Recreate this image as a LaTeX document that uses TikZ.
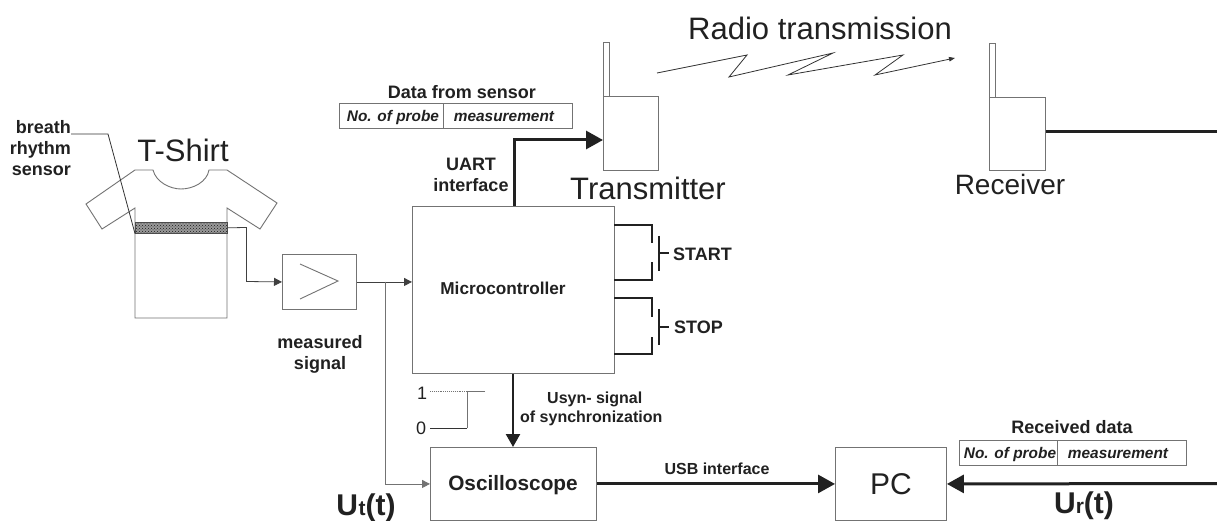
\documentclass[tikz,border=0pt]{standalone}
\usepackage{fontspec}
\setmainfont{Liberation Sans}
\usetikzlibrary{arrows.meta,patterns}
\definecolor{ln}{gray}{0.45}
\definecolor{tx}{gray}{0.13}
\tikzset{
  box/.style={draw=ln,line width=0.9pt,fill=white,inner sep=0pt,anchor=north west},
  thin line/.style={draw=ln,line width=0.9pt},
  dark line/.style={draw=black!80,line width=0.8pt},
  thick arrow/.style={draw=tx,line width=3pt,-{Triangle[length=17pt,width=18pt]}},
  mid arrow/.style={draw=tx,line width=2.4pt,-{Triangle[length=13pt,width=14pt]}},
  thick line/.style={draw=tx,line width=3pt},
  small arrow/.style={draw=black!75,line width=0.8pt,-{Triangle[length=8pt,width=8pt]}},
  sw/.style={draw=tx,line width=1.5pt},
  big/.style={font=\fontsize{31}{34}\selectfont,text=tx,inner sep=0pt},
  lab/.style={font=\fontsize{18}{21}\selectfont\bfseries,text=tx,inner sep=0pt,align=center},
  cell/.style={font=\fontsize{15.4}{18}\selectfont\bfseries\itshape,text=tx,inner sep=0pt},
  ulab/.style={font=\fontsize{30}{32}\selectfont\bfseries,text=tx,inner sep=0pt}
}
\newcommand{\rectnode}[5]{\node[box,minimum width=#4pt-#2pt,minimum height=#5pt-#3pt] (#1) at (#2,#3) {};}
\begin{document}
\begin{tikzpicture}[x=1pt,y=-1pt]
\useasboundingbox (0,0) rectangle (1217,521);
\fill[white] (0,0) rectangle (1217,521);
% T-shirt
\draw[thin line] (135,208) -- (102,229) -- (86,204) -- (135,170) -- (153,170)
  .. controls (156,182) and (170,189) .. (181,189) .. controls (193,189) and (207,182) .. (209,170)
  -- (227,170) -- (277,203) -- (260,229) -- (227,208) -- (227,318) -- (135,318) -- cycle;
\node[draw=black!70,line width=0.6pt,preaction={fill=black!40},pattern=crosshatch dots,pattern color=black!90,minimum width=92pt,minimum height=11pt,inner sep=0pt,anchor=north west] (band) at (135,222) {};
\node[big] (tshirt) at (183,150) {T-Shirt};
\node[lab,align=right,anchor=north east] (sensor) at (71,120) {breath\\rhythm\\sensor};
\coordinate (leadA) at (108,134);
\draw[dark line] (71,134) -- (leadA) -- (band.south west);
% amplifier
\rectnode{amp}{282}{254}{356}{309}
\coordinate (t1) at (300,264); \coordinate (t2) at (338,281); \coordinate (t3) at (300,299);
\draw[thin line] (t1) -- (t2) -- (t3);
\draw[small arrow] (band.east) -- (246.5,227.5) -- (246.5,281.5) -- (amp.west);
% microcontroller
\rectnode{mcu}{412}{206}{614}{373}
\node[font=\fontsize{17.2}{20}\selectfont\bfseries,text=tx,inner sep=0pt] (mcutxt) at (503,288) {Microcontroller};
\draw[small arrow] (amp.east) -- (mcu.west |- amp.east);
% oscilloscope
\rectnode{osc}{430}{447}{596}{520}
\node[font=\fontsize{20.8}{24}\selectfont\bfseries,text=tx,inner sep=0pt] (osctxt) at (513,485) {Oscilloscope};
\coordinate (br) at (385,281.5);
\draw[thin line,-{Triangle[length=8pt,width=8pt]}] (br) |- (osc.west);
\draw[mid arrow] (mcu.south -| 513,0) -- (osc.north -| 513,0);
% PC
\rectnode{pc}{835}{447}{946}{520}
\node[big,font=\fontsize{30}{33}\selectfont] (pctxt) at (891,484) {PC};
\draw[thick arrow] (osc.east) -- (pc.west);
\coordinate (rin) at (1217,483.5);
\draw[thick arrow] (rin) -- (pc.east);
\node[lab,font=\fontsize{16}{19}\selectfont\bfseries] (usb) at (717,469) {USB interface};
% transmitter
\rectnode{tx}{603}{96}{658}{170}
\rectnode{txant}{603}{42}{609}{96}
\node[big] (txlab) at (648,188) {Transmitter};
\coordinate (bend) at (514,140);
\draw[thick arrow] (mcu.north -| bend) -- (bend) -- (tx.west |- bend);
\node[lab,align=center] (uart) at (471,175) {UART\\interface};
% receiver
\rectnode{rx}{989}{97}{1045}{170}
\rectnode{rxant}{989}{43}{995}{97}
\node[big,font=\fontsize{28}{31}\selectfont] (rxlab) at (1010,184) {Receiver};
\coordinate (rout) at (1217,132);
\draw[thick line] (rx.east |- rout) -- (rout);
% radio
\node[big] (radio) at (820,28) {Radio transmission};
\coordinate (z0) at (657,73); \coordinate (z1) at (747,55); \coordinate (z2) at (729,77);
\coordinate (z3) at (833,53); \coordinate (z4) at (788,75); \coordinate (z5) at (903,55);
\coordinate (z6) at (875,75); \coordinate (z7) at (955,58);
\draw[dark line,-{Triangle[length=6pt,width=4.5pt]}] (z0) -- (z1) -- (z2) -- (z3) -- (z4) -- (z5) -- (z6) -- (z7);
% data from sensor
\rectnode{d1}{339}{103}{443}{128}
\rectnode{d2}{443}{103}{572}{128}
\node[cell] (d1t) at (393,117.5) {No. of probe};
\node[cell] (d2t) at (504,117) {measurement};
\node[lab] (dfs) at (462,92.5) {Data from sensor};
% received data
\rectnode{r1}{959}{440}{1057}{465}
\rectnode{r2}{1057}{440}{1186}{465}
\node[cell] (r1t) at (1010,454.5) {No. of probe};
\node[cell] (r2t) at (1118,454) {measurement};
\node[lab] (rd) at (1072,427) {Received data};
% switches
\draw[sw] (614,225) -- (652,225) -- (652,243);
\draw[sw] (614,280) -- (652,280) -- (652,262);
\draw[sw] (659,236) -- (659,271);
\draw[sw] (659,253) -- (669,253);
\node[lab,anchor=west] (start) at (673,254) {START};
\draw[sw] (614,298) -- (652,298) -- (652,317);
\draw[sw] (614,354) -- (652,354) -- (652,337);
\draw[sw] (659,309) -- (659,345);
\draw[sw] (659,327) -- (669,327);
\node[lab,anchor=west] (stop) at (674,327) {STOP};
% labels
\node[lab] (meas) at (320,354) {measured\\signal};
\node[lab,font=\fontsize{16}{19}\selectfont\bfseries,anchor=west,align=left] (usyn) at (520,408.5) {\hspace*{27pt}Usyn- signal\\of synchronization};
\node[ulab] (ut) at (366,508) {U\kern0.5pt{\fontsize{21}{24}\selectfont t}(t)};
\node[ulab] (ur) at (1084,506) {U{\fontsize{21}{24}\selectfont r}(t)};
% sync waveform
\node[font=\fontsize{18}{21}\selectfont,text=tx,inner sep=0pt] (one) at (422,393) {1};
\node[font=\fontsize{18}{21}\selectfont,text=tx,inner sep=0pt] (zero) at (421,428) {0};
\draw[thin line,densely dotted] (430,391) -- (467,391);
\draw[thin line] (485,391) -- (467,391) -- (467,428);
\draw[dark line] (467,428) -- (430,428);
\end{tikzpicture}
\end{document}
